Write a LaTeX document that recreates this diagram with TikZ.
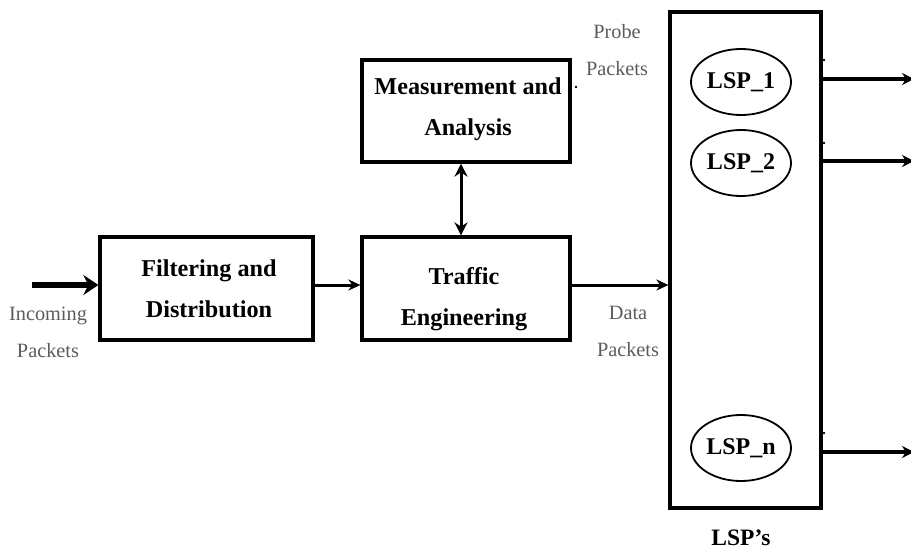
\documentclass[tikz,border=0pt]{standalone}
\usepackage{fontspec}
\setmainfont{Liberation Serif}
\usetikzlibrary{arrows.meta,shapes.geometric}
\definecolor{labelgray}{rgb}{0.36,0.36,0.36}
\tikzset{
  blockbox/.style={draw,line width=3.2pt},
  blocktext/.style={align=center,font=\fontsize{24.2}{41}\selectfont\bfseries},
  lspoval/.style={draw,ellipse,line width=1.8pt,minimum width=100pt,minimum height=66pt,inner sep=0pt,font=\fontsize{24}{26}\selectfont\bfseries},
  sidelabel/.style={align=center,text=labelgray,font=\fontsize{20.3}{37}\selectfont},
  flow/.style={line width=3pt,-{Stealth[length=12pt,width=11pt]}},
  outline/.style={line width=3.2pt,-{Stealth[length=12pt,width=12pt]}},
  tick/.style={fill=black,circle,inner sep=0pt,minimum size=2.6pt}
}
\begin{document}
\begin{tikzpicture}[x=1pt,y=-1pt]
\useasboundingbox (0,0) rectangle (911,552);
\clip (0,0) rectangle (911,552);

% processing blocks
\node[blockbox,minimum width=213pt,minimum height=103pt] (filter) at (206.5,288.5) {};
\node[blocktext] (filtertext) at (209,289) {Filtering and\\Distribution};
\node[blockbox,minimum width=208pt,minimum height=103pt] (traffic) at (466,288.5) {};
\node[blocktext] (traffictext) at (464,299) {Traffic\\Engineering};
\node[blockbox,minimum width=208pt,minimum height=102pt] (meas) at (466,111) {};
\node[blocktext] (meastext) at (468,109) {Measurement and\\Analysis};

% LSP container and its paths
\node[draw,line width=3.2pt,minimum width=151pt,minimum height=496pt] (lspbox) at (745.5,260) {};
\node[lspoval] (l1) at (741,82) {LSP\_1};
\node[lspoval] (l2) at (741,163) {LSP\_2};
\node[lspoval] (ln) at (741,448) {LSP\_n};
\node[font=\fontsize{23.5}{26}\selectfont\bfseries] (lsplabel) at (741,538) {LSP’s};

% free ends
\coordinate (src) at (32,285);
\coordinate (o1) at (914,79);
\coordinate (o2) at (914,161);
\coordinate (on) at (914,452);

% connectors
\draw[line width=6.5pt,-{Stealth[length=15pt,width=20pt]}] (src) -- (filter.west |- src);
\draw[flow] (filter.east |- src) -- (traffic.west |- src);
\draw[flow] (traffic.east |- src) -- (lspbox.west |- src);
\draw[line width=3pt,{Stealth[length=13pt,width=13pt]}-{Stealth[length=13pt,width=13pt]}] ([xshift=-5pt]meas.south) -- ([xshift=-5pt]traffic.north);
\draw[outline] (lspbox.east |- o1) -- (o1);
\draw[outline] (lspbox.east |- o2) -- (o2);
\draw[outline] (lspbox.east |- on) -- (on);

% labels
\node[sidelabel] (inlabel) at (48,332) {Incoming\\Packets};
\node[sidelabel] (datalabel) at (628,331) {Data\\Packets};
\node[sidelabel] (probelabel) at (617,50) {Probe\\Packets};

% small marks
\node[tick] (m0) at (576,87) {};
\node[tick] (m1) at (824,60) {};
\node[tick] (m2) at (824,143) {};
\node[tick] (m3) at (824,433) {};
\end{tikzpicture}
\end{document}
